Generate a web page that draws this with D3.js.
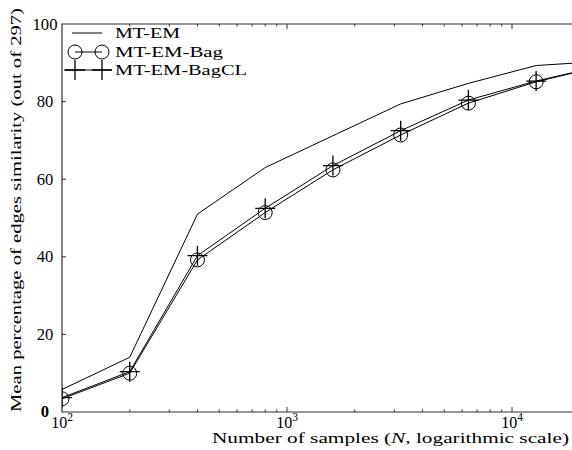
<!DOCTYPE html>
<html>
<head>
<meta charset="utf-8">
<script src="https://cdn.jsdelivr.net/npm/d3@7"></script>
<style>
  body { margin: 0; background: #fff; }
  text { font-family: "Liberation Serif", "DejaVu Serif", serif; fill: #000; }
</style>
</head>
<body>
<svg id="chart" width="572" height="450"></svg>
<script>
// values
var samples = [100, 200, 400, 800, 1600, 3200, 6400, 12800, 25600];
var mtEm = [5.8, 14.1, 51.0, 63.0, 71.2, 79.4, 84.7, 89.3, 90.4];
var mtEmBag = [3.4, 10.0, 39.2, 51.4, 62.4, 71.4, 79.6, 85.1, 89.3];
var mtEmBagCL = [3.7, 10.4, 40.3, 52.5, 63.5, 72.5, 80.4, 85.3, 89.3];
var yTicks = [0, 20, 40, 60, 80, 100];
var xTicks = [100, 1000, 10000];
var seriesNames = ["MT-EM", "MT-EM-Bag", "MT-EM-BagCL"];

var svg = d3.select("#chart"),
    mLeft = 62, mRight = 572, mTop = 24, mBottom = 412;

var x = d3.scaleLog()
    .domain([100, Math.pow(10, 4 + 60 / 225)])
    .range([mLeft, mRight]);
var y = d3.scaleLinear().domain([0, 100]).range([mBottom, mTop]);

svg.append("clipPath").attr("id", "clip")
  .append("rect")
    .attr("x", mLeft).attr("y", 0)
    .attr("width", mRight - mLeft).attr("height", 450);

// frame
svg.append("path")
    .attr("d", "M" + mRight + "," + mTop + "H" + mLeft + "V" + mBottom + "H" + mRight)
    .attr("fill", "none")
    .attr("stroke", "#333")
    .attr("stroke-width", 1.2);

// y ticks (inward)
yTicks.forEach(function(t) {
  if (t > 0 && t < 100) {
    svg.append("line")
        .attr("x1", mLeft).attr("x2", mLeft + 4)
        .attr("y1", y(t)).attr("y2", y(t))
        .attr("stroke", "#333");
  }
  svg.append("text")
      .attr("x", t == 0 ? 45 : 45)
      .attr("y", t == 0 ? y(t) - 1 : y(t))
      .attr("dy", "0.35em")
      .attr("text-anchor", "middle")
      .attr("textLength", String(t).length * 8.3)
      .attr("lengthAdjust", "spacingAndGlyphs")
      .style("font-size", "16px")
      .style("font-weight", t == 0 ? "bold" : "normal")
      .text(t);
});

// log x ticks, bottom and top, inward
var minor = [];
[100, 1000, 10000].forEach(function(d) {
  for (var k = 2; k <= 9; k++) minor.push(d * k);
});
minor = minor.filter(function(v) { return x(v) < mRight; });

var g = svg.append("g");
minor.forEach(function(v) {
  g.append("line").attr("x1", x(v)).attr("x2", x(v))
      .attr("y1", mBottom).attr("y2", mBottom - 2.5).attr("stroke", "#333");
  g.append("line").attr("x1", x(v)).attr("x2", x(v))
      .attr("y1", mTop).attr("y2", mTop + 2.5).attr("stroke", "#333");
});
xTicks.forEach(function(v) {
  if (v > 100) {
    g.append("line").attr("x1", x(v)).attr("x2", x(v))
        .attr("y1", mBottom).attr("y2", mBottom - 5).attr("stroke", "#333");
    g.append("line").attr("x1", x(v)).attr("x2", x(v))
        .attr("y1", mTop).attr("y2", mTop + 5).attr("stroke", "#333");
  }
  var lab = svg.append("text")
      .attr("x", x(v))
      .attr("y", 428)
      .attr("text-anchor", "middle")
      .style("font-size", "16px");
  lab.append("tspan").text("10");
  lab.append("tspan")
      .attr("dy", "-7")
      .style("font-size", "11.5px")
      .text(Math.round(Math.log10(v)));
});

// axis labels
svg.append("text")
    .attr("x", 212)
    .attr("y", 443)
    .attr("textLength", 357)
    .attr("lengthAdjust", "spacingAndGlyphs")
    .style("font-size", "15px")
    .html('Number of samples (<tspan font-style="italic">N</tspan>, logarithmic scale)');

svg.append("text")
    .attr("transform", "translate(21,412) rotate(-90)")
    .attr("textLength", 404)
    .attr("lengthAdjust", "spacingAndGlyphs")
    .style("font-size", "15px")
    .text("Mean percentage of edges similarity (out of 297)");

// series
var line = d3.line()
    .x(function(d, i) { return x(samples[i]); })
    .y(function(d) { return y(d); });

var plot = svg.append("g").attr("clip-path", "url(#clip)");

[mtEm, mtEmBag, mtEmBagCL].forEach(function(s) {
  plot.append("path")
      .datum(s)
      .attr("d", line)
      .attr("fill", "none")
      .attr("stroke", "#000")
      .attr("stroke-width", 1);
});

function circleMark(sel, cx, cy) {
  sel.append("circle")
      .attr("cx", cx).attr("cy", cy).attr("r", 7)
      .attr("fill", "none").attr("stroke", "#000").attr("stroke-width", 1);
}
function plusMark(sel, cx, cy) {
  sel.append("path")
      .attr("d", "M" + (cx - 10) + "," + cy + "H" + (cx + 10) +
                 "M" + cx + "," + (cy - 10) + "V" + (cy + 10))
      .attr("stroke", "#000").attr("stroke-width", 1.3);
}

samples.forEach(function(n, i) {
  if (x(n) <= mRight) {
    circleMark(plot, x(n), y(mtEmBag[i]));
    plusMark(plot, x(n), y(mtEmBagCL[i]));
  }
});

// legend
var leg = svg.append("g");
leg.append("line").attr("x1", 72).attr("x2", 102).attr("y1", 33).attr("y2", 33)
    .attr("stroke", "#000");
leg.append("line").attr("x1", 75).attr("x2", 102).attr("y1", 52).attr("y2", 52)
    .attr("stroke", "#000");
circleMark(leg, 75, 52);
circleMark(leg, 102, 52);
leg.append("line").attr("x1", 64).attr("x2", 112).attr("y1", 70).attr("y2", 70)
    .attr("stroke", "#000");
plusMark(leg, 75, 70);
plusMark(leg, 102, 70);

var legWidths = [65, 108, 132];
seriesNames.forEach(function(name, i) {
  leg.append("text")
      .attr("x", 115)
      .attr("y", [38, 57, 75][i])
      .attr("textLength", legWidths[i])
      .attr("lengthAdjust", "spacingAndGlyphs")
      .style("font-size", "15px")
      .text(name);
});
</script>
</body>
</html>
